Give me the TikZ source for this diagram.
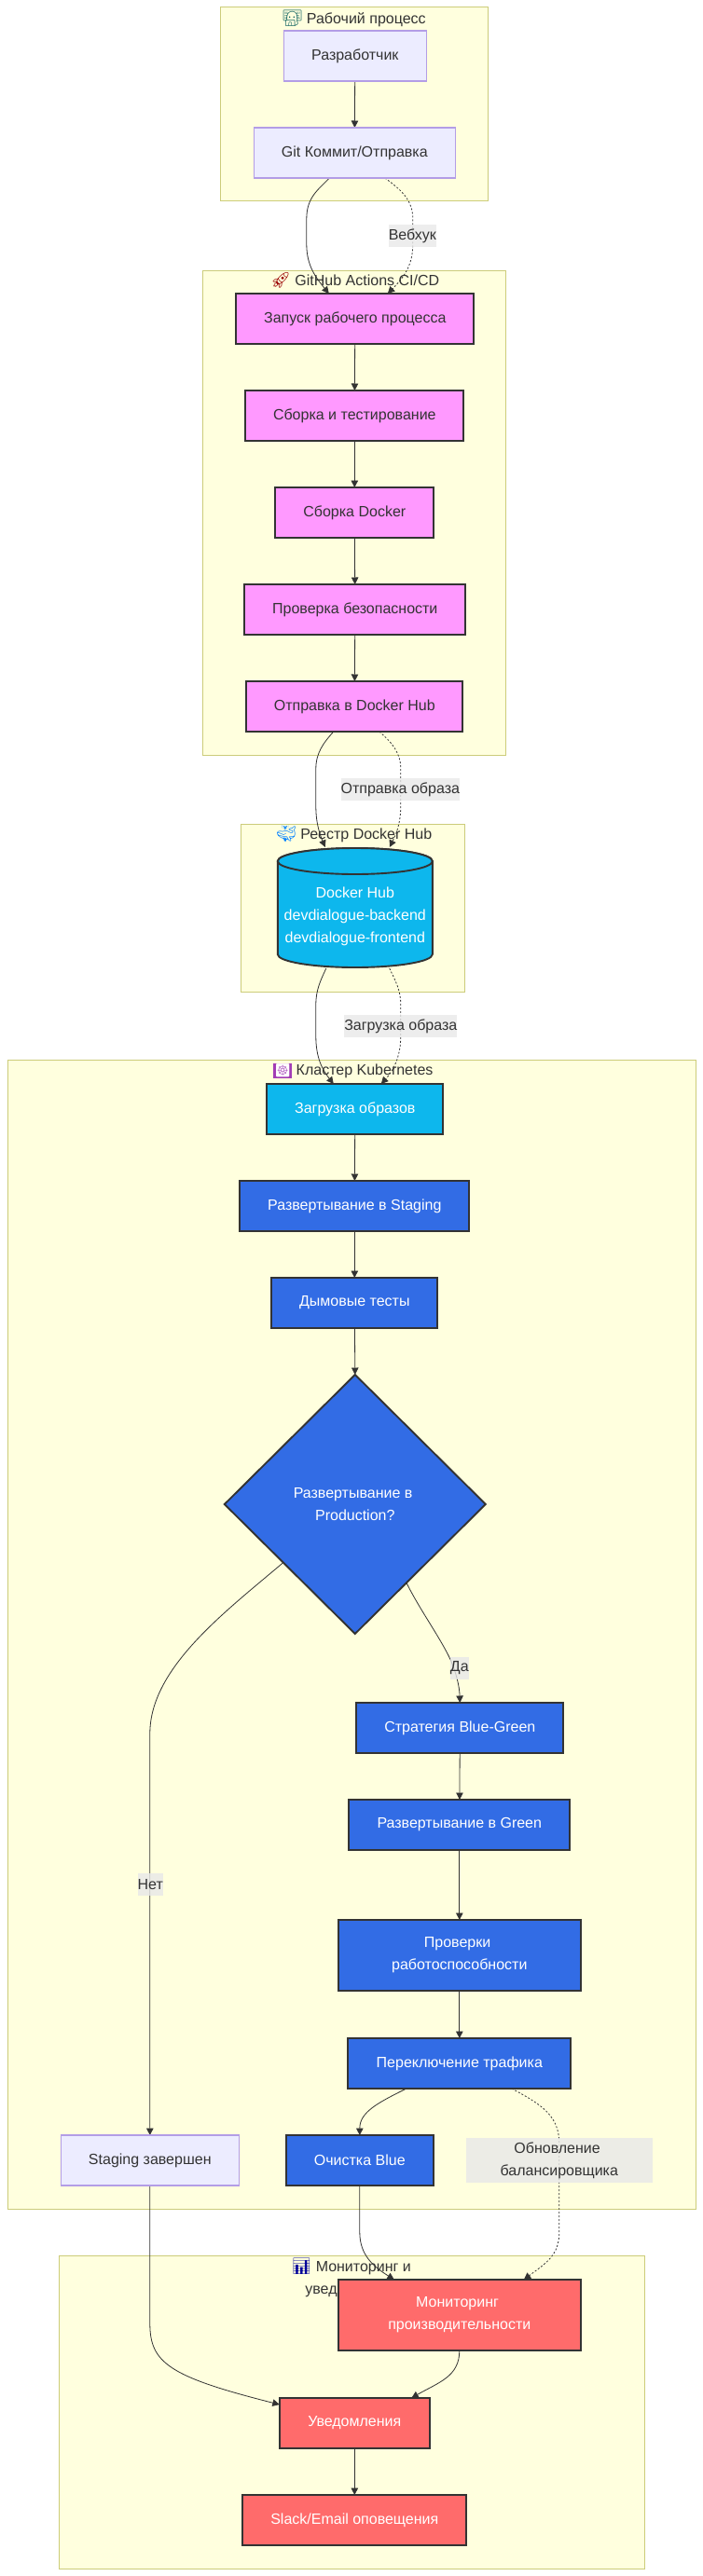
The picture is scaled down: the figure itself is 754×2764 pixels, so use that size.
\documentclass[tikz,border=0pt]{standalone}
\usepackage{fontspec}
\setmainfont{Liberation Sans}
\newfontfamily\emojifont{Noto Emoji}
\usetikzlibrary{arrows.meta,calc}
\definecolor{clfill}{HTML}{FFFFDE}
\definecolor{clline}{HTML}{CCCC7A}
\definecolor{ink}{HTML}{333333}
\definecolor{defill}{HTML}{ECECFF}
\definecolor{deline}{HTML}{B39DE6}
\definecolor{magen}{HTML}{FF99FF}
\definecolor{kblue}{HTML}{326CE5}
\definecolor{dcyan}{HTML}{0DB7ED}
\definecolor{redd}{HTML}{FF6B6B}
\definecolor{lblbg}{HTML}{E8E8E8}
\definecolor{kpurple}{HTML}{A23CB5}
\pgfdeclarelayer{clusters}
\pgfdeclarelayer{edgelayer}
\pgfsetlayers{clusters,edgelayer,main}
\newcommand{\emj}[2]{{\color{#1}\emojifont\fontsize{17}{24}\selectfont #2}}
\setlength{\fboxsep}{1.2pt}
\tikzset{
  basetext/.style={font=\fontsize{16}{24}\selectfont,align=center,text=ink,inner sep=0pt,outer sep=0pt},
  cluster/.style={draw=clline,fill=clfill,line width=1pt,inner sep=0pt,outer sep=0pt},
  ctitle/.style={basetext},
  plain/.style={basetext,rectangle,draw=deline,fill=defill,line width=1.1pt,minimum height=54pt},
  proc/.style={basetext,rectangle,draw=ink,line width=1.9pt,minimum height=54pt},
  magbox/.style={proc,fill=magen},
  bluebox/.style={proc,fill=kblue,text=white},
  cyanbox/.style={proc,fill=dcyan,text=white},
  redbox/.style={proc,fill=redd,text=white},
  dbbody/.style={draw=ink,fill=dcyan,line width=1.9pt},
  dbtext/.style={basetext,text=white},
  lbl/.style={basetext,fill=lblbg,fill opacity=0.8,text opacity=1},
  flow/.style={draw=ink,line width=0.8pt,-{Triangle[length=7.5pt,width=7.5pt,fill=ink]}},
  dflow/.style={flow,dash pattern=on 2pt off 2pt}
}
\begin{document}
\begin{tikzpicture}[x=1pt,y=-1pt]
\useasboundingbox (-0.8,0) rectangle (753.2,2764);
% clusters
\begin{pgfonlayer}{clusters}
\node[cluster,minimum width=287pt,minimum height=208pt] (c1) at (379.5,112) {};
\node[cluster,minimum width=325pt,minimum height=520pt] (c2) at (379.5,550) {};
\node[cluster,minimum width=240pt,minimum height=180pt] (c3) at (378,974) {};
\node[cluster,minimum width=738pt,minimum height=1233pt] (c4) at (377,1753.5) {};
\node[cluster,minimum width=628pt,minimum height=336pt] (c5) at (377,2588) {};
\node[ctitle] (t1) at (379,19.5) {\emj{teal!70!black}{👨‍💻} Рабочий процесс};
\node[ctitle] (t2) at (380,301) {\emj{red!60!black}{🚀} GitHub Actions CI/CD};
\node[ctitle] (t3) at (379,895) {\emj{blue!50!cyan}{🐳} Реестр Docker Hub};
\node[ctitle] (t4) at (378,1149) {\colorbox{kpurple}{{\color{white}\emojifont\fontsize{14}{14}\selectfont ☸}} Кластер Kubernetes};
\node[ctitle] (t5) at (376,2444) {\emj{blue!60!black}{📊} Мониторинг и\\уведомления};
\end{pgfonlayer}
% nodes
\node[plain,minimum width=153pt] (dev) at (380,60) {Разработчик};
\node[plain,minimum width=216pt] (git) at (379.5,164) {Git Коммит/Отправка};
\node[magbox,minimum width=255pt] (start) at (380,342) {Запуск рабочего процесса};
\node[magbox,minimum width=234pt] (build) at (379.5,446) {Сборка и тестирование};
\node[magbox,minimum width=170pt] (dock) at (379.5,550) {Сборка Docker};
\node[magbox,minimum width=237pt] (sec) at (380,654) {Проверка безопасности};
\node[magbox,minimum width=232pt] (push) at (379.5,758) {Отправка в Docker Hub};
\draw[dbbody] (297,924) -- (297,1024) arc[start angle=180,end angle=360,x radius=83pt,y radius=14pt] -- (463,924) arc[start angle=0,end angle=180,x radius=83pt,y radius=14pt] -- cycle;
\draw[dbbody] (380,924) ellipse[x radius=83pt,y radius=14pt];
\coordinate (dbtop) at (380,909);
\node[dbtext,minimum width=166pt,minimum height=112pt] (db) at (380,983) {Docker Hub\\devdialogue-backend\\devdialogue-frontend};
\node[cyanbox,minimum width=189pt] (load) at (380,1190) {Загрузка образов};
\node[bluebox,minimum width=246pt] (stag) at (379.5,1294) {Развертывание в Staging};
\node[bluebox,minimum width=178pt] (smoke) at (379.5,1398) {Дымовые тесты};
\path[draw=ink,fill=kblue,line width=1.9pt] (380,1475) -- (520,1614) -- (380,1753) -- (240,1614) -- cycle;
\coordinate (dectop) at (380,1475);
\node[basetext,text=white,minimum width=276pt,minimum height=274pt] (dec) at (380,1614) {Развертывание в\hspace*{4.4pt}\\Production?};
\coordinate (decleft) at (302.5,1677);
\coordinate (decright) at (435.5,1699);
\node[bluebox,minimum width=222pt] (bg) at (492.5,1854) {Стратегия Blue-Green};
\node[bluebox,minimum width=237pt] (green) at (492,1958) {Развертывание в Green};
\node[bluebox,minimum width=260pt,minimum height=76pt] (health) at (492,2098) {Проверки\hspace*{4.4pt}\\работоспособности};
\node[bluebox,minimum width=239pt] (switch) at (492,2214) {Переключение трафика};
\node[plain,minimum width=191pt] (done) at (160,2318) {Staging завершен};
\node[bluebox,minimum width=158pt] (clean) at (385,2318) {Очистка Blue};
\node[redbox,minimum width=260pt,minimum height=76pt] (mon) at (492,2484) {Мониторинг\hspace*{4.4pt}\\производительности};
\node[redbox,minimum width=161pt] (notif) at (379.5,2600) {Уведомления};
\node[redbox,minimum width=240pt] (slack) at (379.5,2704) {Slack/Email оповещения};
% edges
\begin{pgfonlayer}{edgelayer}
\draw[flow] (dev) -- (git);
\draw[flow] ($(git.south)+(-27,0)$) .. controls (340,204) and (328,212) .. (328,235) -- (328,262) .. controls (328,285) and (338,298) .. ($(start.north)+(-28,0)$);
\draw[dflow] ($(git.south)+(32.5,0)$) .. controls (430,204) and (442,215) .. (442,235) -- (442,262) .. controls (442,285) and (432,298) .. ($(start.north)+(35,0)$);
\draw[flow] (start) -- (build);
\draw[flow] (build) -- (dock);
\draw[flow] (dock) -- (sec);
\draw[flow] (sec) -- (push);
\draw[flow] ($(push.south)+(-22.5,0)$) .. controls (346,797) and (338,808) .. (338,825) -- (338,865) .. controls (338,885) and (343,897) .. ($(dbtop)+(-32,0)$);
\draw[dflow] ($(push.south)+(26.5,0)$) .. controls (420,797) and (429,808) .. (429,825) -- (429,865) .. controls (429,885) and (423,897) .. ($(dbtop)+(37,0)$);
\draw[flow] ($(db.south)+(-31,0)$) .. controls (343,1052) and (338,1062) .. (338,1078) -- (338,1112) .. controls (338,1135) and (345,1148) .. ($(load.north)+(-23,0)$);
\draw[dflow] ($(db.south)+(37,0)$) .. controls (423,1052) and (429,1062) .. (429,1078) -- (429,1112) .. controls (429,1135) and (420,1150) .. ($(load.north)+(28,0)$);
\draw[flow] (load) -- (stag);
\draw[flow] (stag) -- (smoke);
\draw[flow] (smoke) -- (dectop);
\draw[flow] (decright) .. controls (450,1728) and (470,1755) .. (482,1780) .. controls (489,1796) and (492,1810) .. (bg.north);
\draw[flow] (decleft) .. controls (240,1730) and (160,1790) .. (160,1860) -- (done.north);
\draw[flow] (bg) -- (green);
\draw[flow] (green) -- (health);
\draw[flow] (health) -- (switch);
\draw[flow] ($(switch.south)+(-57,0)$) .. controls (405,2256) and (385,2266) .. (clean.north);
\draw[dflow] ($(switch.south)+(56,0)$) .. controls (580,2258) and (599,2270) .. (599,2300) -- (599,2395) .. controls (599,2420) and (585,2428) .. ($(mon.north)+(69,0)$);
\draw[flow] (clean.south) -- (385,2395) .. controls (385,2420) and (400,2432) .. ($(mon.north)+(-70,0)$);
\draw[flow] (done.south) -- (160,2493) .. controls (160,2535) and (180,2550) .. ($(notif.west)+(0,-20)$);
\draw[flow] (mon.south) .. controls (492,2550) and (470,2556) .. ($(notif.north)+(61,0)$);
\draw[flow] (notif) -- (slack);
% edge labels
\node[lbl,minimum width=51pt,minimum height=24pt] (lweb) at (441.5,253) {Вебхук};
\node[lbl,minimum width=127pt,minimum height=24pt] (limg) at (428.5,847) {Отправка образа};
\node[lbl,minimum width=120pt,minimum height=24pt] (lpull) at (429,1101) {Загрузка образа};
\node[lbl,minimum width=20pt,minimum height=24pt] (lyes) at (492,1790) {Да};
\node[lbl,minimum width=27pt,minimum height=24pt] (lno) at (160.5,2022) {Нет};
\node[lbl,minimum width=200pt,minimum height=48pt] (llb) at (599,2318) {Обновление\hspace*{4.4pt}\\балансировщика};
\end{pgfonlayer}
\end{tikzpicture}
\end{document}
